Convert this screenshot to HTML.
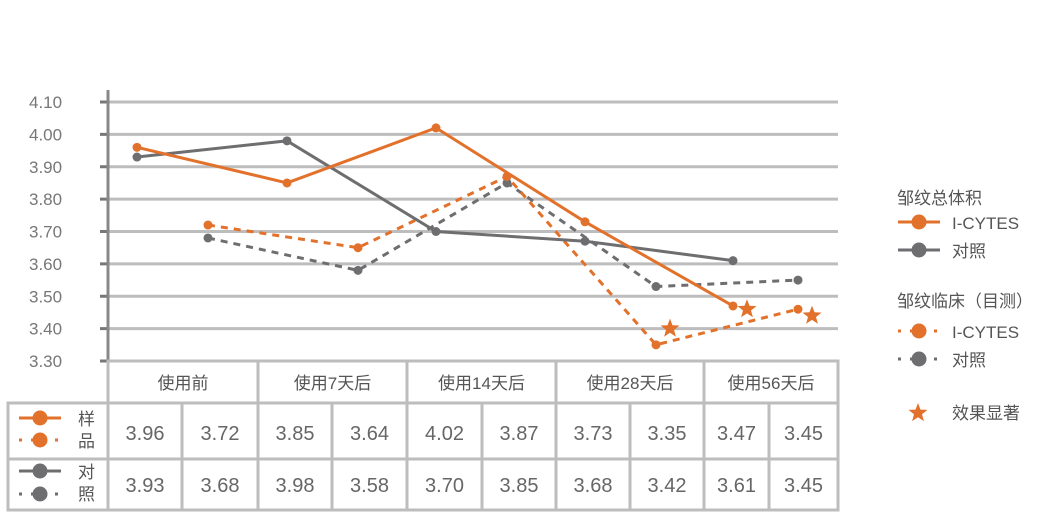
<!DOCTYPE html>
<html><head><meta charset="utf-8"><style>
body{margin:0;background:#fff;font-family:"Liberation Sans","Noto Sans CJK SC",sans-serif;}
svg text{font-family:"Liberation Sans","Noto Sans CJK SC",sans-serif;}
</style></head><body>
<svg id="c" width="1044" height="514"></svg>
<script>
const categories=["使用前","使用7天后","使用14天后","使用28天后","使用56天后"];
const yTicks=[4.10,4.00,3.90,3.80,3.70,3.60,3.50,3.40,3.30];
const sampleVolume=[3.96,3.85,4.02,3.73,3.47];
const controlVolume=[3.93,3.98,3.70,3.67,3.61];
const sampleClinical=[3.72,3.65,3.87,3.35,3.46];
const controlClinical=[3.68,3.58,3.85,3.53,3.55];
const starGroups=[3,4,4];
const starSeries=["clinical","volume","clinical"];
const starValues=[3.40,3.46,3.44];
const tableSample=["3.96","3.72","3.85","3.64","4.02","3.87","3.73","3.35","3.47","3.45"];
const tableControl=["3.93","3.68","3.98","3.58","3.70","3.85","3.68","3.42","3.61","3.45"];
const svg=document.getElementById('c');const NS='http://www.w3.org/2000/svg';
const OR='#e2712b',GR='#6e6e70',LG='#bdbdbd';
function el(t,a,p){const e=document.createElementNS(NS,t);for(const k in a)e.setAttribute(k,a[k]);(p||svg).appendChild(e);return e;}
const y=v=>361-(v-3.30)/0.8*259;
const groupX=[108,258,407,556,704,838];
const xs=i=>groupX[i]+29;
const xd=i=>groupX[i]+(i==4?94:100);
yTicks.forEach(t=>{
 const g=el('line',{x1:108,x2:838,y1:y(t),y2:y(t),stroke:LG,'stroke-width':3});
 
 el('line',{x1:100,x2:108,y1:y(t),y2:y(t),stroke:'#777','stroke-width':3});
 const tx=el('text',{x:29,y:y(t)+6,'font-size':17,fill:'#777'});tx.textContent=t.toFixed(2);
 
});
el('line',{x1:108,x2:108,y1:90,y2:510,stroke:'#888','stroke-width':3});
const tg=el('g',{});
el('rect',{x:108,y:361,width:730,height:42,fill:'none',stroke:LG,'stroke-width':3},tg);
el('rect',{x:8,y:403,width:830,height:107,fill:'none',stroke:LG,'stroke-width':3},tg);
el('line',{x1:8,x2:838,y1:459,y2:459,stroke:LG,'stroke-width':3},tg);
groupX.forEach(gx=>el('line',{x1:gx,x2:gx,y1:361,y2:510,stroke:LG,'stroke-width':3},tg));
[182,332,482,630,769].forEach(sx=>el('line',{x1:sx,x2:sx,y1:403,y2:510,stroke:LG,'stroke-width':3},tg));
const cellEdges=[108,182,258,332,407,482,556,630,704,769,838];
categories.forEach((c,i)=>{const t=el('text',{x:(groupX[i]+groupX[i+1])/2,y:389,'text-anchor':'middle','font-size':17,fill:'#555'},tg);t.textContent=c;
 });
for(let i=0;i<10;i++){const cx=(cellEdges[i]+cellEdges[i+1])/2;
 const a=el('text',{x:cx,y:440,'text-anchor':'middle','font-size':20,fill:'#666'},tg);a.textContent=tableSample[i];
 
 const b=el('text',{x:cx,y:492,'text-anchor':'middle','font-size':20,fill:'#666'},tg);b.textContent=tableControl[i];
 }
function mk(x0,yy,col,dash,g){el('line',{x1:x0,x2:x0+42,y1:yy,y2:yy,stroke:col,'stroke-width':3,'stroke-dasharray':dash?'3 9':'none'},g);el('circle',{cx:x0+21,cy:yy,r:7.5,fill:col},g);}
mk(19,418,OR,false,tg);mk(19,440,OR,true,tg);mk(19,471,GR,false,tg);mk(19,494,GR,true,tg);
[["样",425],["品",447],["对",478],["照",500]].forEach(([s,yy])=>{const t=el('text',{x:78,y:yy,'font-size':17,fill:'#555'},tg);t.textContent=s;});
function series(vals,xf,col,dash,name){const g=el('g',{});
 el('polyline',{points:vals.map((v,i)=>xf(i)+','+y(v)).join(' '),fill:'none',stroke:col,'stroke-width':3,'stroke-dasharray':dash?'7 6':'none'},g);
 vals.forEach((v,i)=>{const c=el('circle',{cx:xf(i),cy:y(v),r:4.5,fill:col},g);});}
series(controlClinical,xd,GR,true,'control-clinical-line');
series(sampleClinical,xd,OR,true,'sample-clinical-line');
series(controlVolume,xs,GR,false,'control-volume-line');
series(sampleVolume,xs,OR,false,'sample-volume-line');
function star(cx,cy,r,g){let p=[];for(let k=0;k<10;k++){const rr=k%2?r*0.42:r,a=-Math.PI/2+k*Math.PI/5;p.push((cx+rr*Math.cos(a)).toFixed(1)+','+(cy+rr*Math.sin(a)).toFixed(1));}
 return el('polygon',{points:p.join(' '),fill:OR},g);}
starGroups.forEach((gi,k)=>{const bx=starSeries[k]=="clinical"?xd(gi):xs(gi);
 const s=star(bx+14,y(starValues[k]),10);});
const lg=el('g',{});
function lt(x,yy,s,n){const t=el('text',{x:x,y:yy,'font-size':17,fill:'#555'},lg);t.textContent=s;}
lt(897,204,'邹纹总体积','legend-title-volume');
mk(898,222,OR,false,lg);lt(952,229,'I-CYTES','legend-entry');
mk(898,250,GR,false,lg);lt(952,257,'对照','legend-entry');
lt(897,307,'邹纹临床（目测）','legend-title-clinical');
mk(898,331,OR,true,lg);lt(952,338,'I-CYTES','legend-entry');
mk(898,359,GR,true,lg);lt(952,366,'对照','legend-entry');
star(918,413,10,lg);lt(952,419,'效果显著','legend-entry');
</script>
</body></html>
